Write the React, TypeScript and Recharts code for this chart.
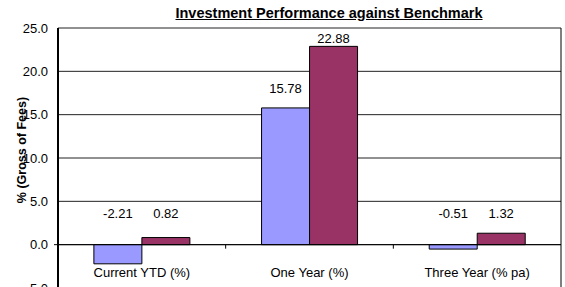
import { BarChart, Bar, XAxis, YAxis, CartesianGrid, LabelList, ReferenceLine } from 'recharts'

const categories = ['Current YTD (%)', 'One Year (%)', 'Three Year (% pa)']
const portfolio = [-2.21, 15.78, -0.51]
const benchmark = [0.82, 22.88, 1.32]
const yTicks = [-5, 0, 5, 10, 15, 20, 25]

const data = categories.map((name, i) => ({
  name,
  portfolio: portfolio[i],
  benchmark: benchmark[i],
}))

const FONT = '"Liberation Sans", Arial, sans-serif'
const MARGIN = { top: 28, right: 3, left: 0, bottom: 0 }

// Excel-ish label placement: above the bar, but never lower than ~31px above zero
function ValueLabel(props: any) {
  const { x, y, width, height, value } = props
  const top = Math.min(y, y + height)
  const bottom = Math.max(y, y + height)
  const zeroY = value >= 0 ? bottom : top
  const cy = Math.max(MARGIN.top + 10, Math.min(top - 19, zeroY - 31))
  return (
    <text
      x={x + width / 2}
      y={cy}
      dy={4.5}
      textAnchor="middle"
      fontSize={13}
      fontFamily={FONT}
      fill="#000"
    >
      {value.toFixed(2)}
    </text>
  )
}

function CategoryTick({ x, y, payload }: any) {
  return (
    <text x={x} y={y - 19} textAnchor="middle" fontSize={13} fontFamily={FONT} fill="#000">
      {payload.value}
    </text>
  )
}

function ZeroAxis(props: any) {
  const { x1, y1, x2 } = props
  const step = (x2 - x1) / categories.length
  return (
    <g stroke="#000" strokeWidth={1}>
      <line x1={x1 - 4} y1={y1} x2={x2} y2={y1} />
      {categories.slice(1).map((c, i) => (
        <line key={c} x1={x1 + step * (i + 1)} y1={y1} x2={x1 + step * (i + 1)} y2={y1 + 4} />
      ))}
    </g>
  )
}

export default function App() {
  return (
    <div style={{ position: 'absolute', left: 0, top: 0, width: 565, height: 300, background: '#fff' }}>
      <div
        style={{
          position: 'absolute',
          left: 329,
          top: 5,
          transform: 'translateX(-50%)',
          whiteSpace: 'nowrap',
          fontFamily: FONT,
          fontSize: 14.5,
          fontWeight: 'bold',
          textDecoration: 'underline',
          lineHeight: '16px',
        }}
      >
        Investment Performance against Benchmark
      </div>
      <BarChart
        width={565}
        height={300}
        data={data}
        margin={MARGIN}
        barCategoryGap="21.4%"
        barGap={0}
      >
        <CartesianGrid vertical={false} stroke="#222" />
        <XAxis
          dataKey="name"
          axisLine={false}
          tickLine={false}
          height={12}
          tick={<CategoryTick />}
          interval={0}
        />
        <YAxis
          domain={[-5, 25]}
          ticks={yTicks}
          interval={0}
          width={58}
          tickFormatter={(v: number) => v.toFixed(1)}
          tick={{ fontSize: 13, fill: '#000', fontFamily: FONT }}
          tickLine={false}
          tickMargin={4}
          axisLine={{ stroke: '#000', strokeWidth: 2 }}
          label={{
            content: ({ viewBox }: any) => (
              <text
                transform={`translate(${viewBox.x + 22}, ${viewBox.y + viewBox.height / 2 - 8}) rotate(-90)`}
                textAnchor="middle"
                dominantBaseline="central"
                fontSize={12.5}
                fontWeight="bold"
                fontFamily={FONT}
                fill="#000"
              >
                % (Gross of Fees)
              </text>
            ),
          }}
        />
        <YAxis
          yAxisId="right"
          orientation="right"
          width={1}
          domain={[-5, 25]}
          tick={false}
          tickLine={false}
          axisLine={{ stroke: '#000' }}
        />
        <Bar dataKey="portfolio" fill="#9999FF" stroke="#000" strokeWidth={1} isAnimationActive={false}>
          <LabelList dataKey="portfolio" content={<ValueLabel />} />
        </Bar>
        <Bar dataKey="benchmark" fill="#993366" stroke="#000" strokeWidth={1} isAnimationActive={false}>
          <LabelList dataKey="benchmark" content={<ValueLabel />} />
        </Bar>
        <ReferenceLine y={0} shape={<ZeroAxis />} />
      </BarChart>
    </div>
  )
}
